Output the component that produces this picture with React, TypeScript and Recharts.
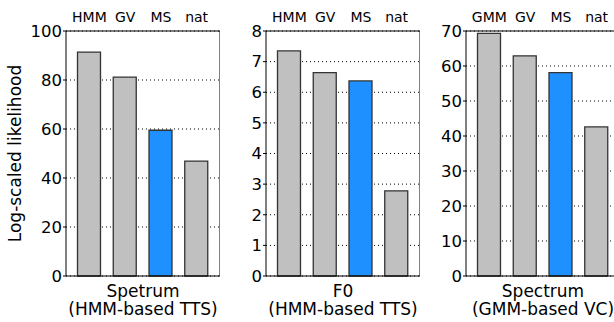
import { BarChart, Bar, XAxis, YAxis, CartesianGrid, Cell } from 'recharts'

const methodsTts = ['HMM', 'GV', 'MS', 'nat']
const methodsVc = ['GMM', 'GV', 'MS', 'nat']
const spectrumTts = [91.4, 81.2, 59.5, 46.9]
const f0Tts = [7.35, 6.64, 6.37, 2.78]
const spectrumVc = [69.3, 62.9, 58.1, 42.6]
const ticksSpectrumTts = [0, 20, 40, 60, 80, 100]
const ticksF0 = [0, 1, 2, 3, 4, 5, 6, 7, 8]
const ticksVc = [0, 10, 20, 30, 40, 50, 60, 70]
const captionSpectrumTts = ['Spetrum', '(HMM-based TTS)']
const captionF0 = ['F0', '(HMM-based TTS)']
const captionVc = ['Spectrum', '(GMM-based VC)']
const yTitle = 'Log-scaled likelihood'

const FONT = '"DejaVu Sans", sans-serif'
const GRAY = '#c0c0c0'
const BLUE = '#1e90ff'

interface PanelProps {
    names: string[]
    values: number[]
    ticks: number[]
    caption: string[]
    left: number
    withTitle?: boolean
}

function Panel({ names, values, ticks, caption, left, withTitle }: PanelProps) {
    const data = names.map((name, i) => ({ name, value: values[i] }))
    const max = ticks[ticks.length - 1]
    const pad = { left: 5.5, right: 5.5 }

    return (
        <div style={{ position: 'absolute', left, top: 0 }}>
            <BarChart width={220} height={322} data={data} margin={{ top: 0, right: 0, bottom: 0, left: 0 }}>
                <CartesianGrid xAxisId="b" yAxisId="l" vertical={false} stroke="#000" strokeDasharray="1 3" />
                <XAxis
                    xAxisId="b"
                    dataKey="name"
                    orientation="bottom"
                    height={46}
                    padding={pad}
                    tick={false}
                    tickLine={false}
                    axisLine={{ stroke: '#000' }}
                    label={{
                        content: (p: any) => {
                            const vb = p.viewBox || { x: 66, y: 276, width: 148 }
                            const cx = vb.x + vb.width / 2
                            return (
                                <g>
                                    <text x={cx} y={vb.y + 20.5} textAnchor="middle" fontSize={17} fill="#000">
                                        {caption[0]}
                                    </text>
                                    <text x={cx} y={vb.y + 39} textAnchor="middle" fontSize={17} fill="#000">
                                        {caption[1]}
                                    </text>
                                </g>
                            )
                        },
                    }}
                />
                <XAxis
                    xAxisId="t"
                    dataKey="name"
                    orientation="top"
                    height={31}
                    padding={pad}
                    interval={0}
                    tickSize={0}
                    tickMargin={9}
                    tickLine={false}
                    tick={{ fontSize: 14, fill: '#000' }}
                    axisLine={{ stroke: '#000' }}
                />
                <YAxis
                    yAxisId="l"
                    width={66}
                    domain={[0, max]}
                    ticks={ticks}
                    interval={0}
                    tickSize={3}
                    tickMargin={1}
                    tick={{ fontSize: 16.5, fill: '#000' }}
                    tickLine={{ stroke: '#000' }}
                    axisLine={{ stroke: '#000' }}
                    label={
                        withTitle
                            ? {
                                  content: (p: any) => {
                                      const vb = p.viewBox || { x: 0, y: 31, height: 245 }
                                      const tx = vb.x + 21
                                      const ty = vb.y + vb.height / 2
                                      return (
                                          <text
                                              x={tx}
                                              y={ty}
                                              textAnchor="middle"
                                              fontSize={17}
                                              fill="#000"
                                              transform={`rotate(-90, ${tx}, ${ty})`}
                                          >
                                              {yTitle}
                                          </text>
                                      )
                                  },
                              }
                            : undefined
                    }
                />
                <YAxis
                    yAxisId="r"
                    orientation="right"
                    width={6}
                    domain={[0, max]}
                    ticks={ticks}
                    interval={0}
                    mirror
                    tickSize={3}
                    tick={false}
                    tickLine={{ stroke: '#000' }}
                    axisLine={{ stroke: '#000' }}
                />
                <Bar
                    xAxisId="b"
                    yAxisId="l"
                    dataKey="value"
                    barSize={23}
                    stroke="#333"
                    strokeWidth={1.3}
                    isAnimationActive={false}
                >
                    {data.map((d) => (
                        <Cell key={d.name} fill={d.name === 'MS' ? BLUE : GRAY} />
                    ))}
                </Bar>
            </BarChart>
        </div>
    )
}

export default function App() {
    return (
        <div
            style={{
                position: 'absolute',
                left: 0,
                top: 0,
                width: 614,
                height: 322,
                overflow: 'hidden',
                background: '#fff',
                fontFamily: FONT,
            }}
        >
            <Panel names={methodsTts} values={spectrumTts} ticks={ticksSpectrumTts} caption={captionSpectrumTts} left={0} withTitle />
            <Panel names={methodsTts} values={f0Tts} ticks={ticksF0} caption={captionF0} left={200} />
            <Panel names={methodsVc} values={spectrumVc} ticks={ticksVc} caption={captionVc} left={400} />
        </div>
    )
}
